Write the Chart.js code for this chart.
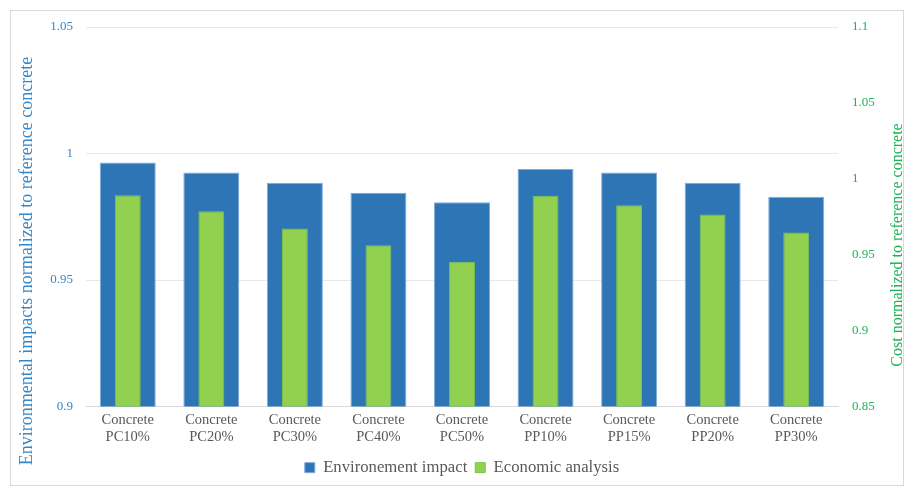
<!DOCTYPE html>
<html><head><meta charset="utf-8">
<script src="https://cdn.jsdelivr.net/npm/chart.js@4"></script>
<style>
html,body{margin:0;padding:0;background:#fff;}
#wrap{position:relative;width:906px;height:486px;}
#frame{position:absolute;left:10px;top:10px;width:894px;height:476px;border:1px solid #d9d9d9;box-sizing:border-box;pointer-events:none;}
</style></head>
<body>
<div id="wrap"><canvas id="c" width="906" height="486"></canvas><div id="frame"></div></div>
<script>
const categories = [["Concrete","PC10%"],["Concrete","PC20%"],["Concrete","PC30%"],["Concrete","PC40%"],["Concrete","PC50%"],["Concrete","PP10%"],["Concrete","PP15%"],["Concrete","PP20%"],["Concrete","PP30%"]];
const environmentImpact = [0.9964, 0.9925, 0.9884, 0.9845, 0.9807, 0.9939, 0.9925, 0.9884, 0.9829];
const economicAnalysis = [0.9892, 0.9786, 0.9672, 0.9562, 0.9453, 0.9888, 0.9826, 0.9765, 0.9646];
const leftTicks = [0.9, 0.95, 1, 1.05];
const rightTicks = [0.85, 0.9, 0.95, 1, 1.05, 1.1];
const leftTitle = 'Environmental impacts normalized to reference concrete';
const rightTitle = 'Cost normalized to reference concrete';

const serif = "'Liberation Serif', 'Times New Roman', serif";
const fmt = v => String(Number(v.toFixed(2)));
const blueText = '#3388CC';
const greenText = '#1DB356';

const axisTitles = {
  id: 'axisTitles',
  afterDraw(chart) {
    const ctx = chart.ctx;
    ctx.save();
    ctx.textAlign = 'center';
    ctx.textBaseline = 'middle';
    ctx.font = "18px " + serif;
    ctx.fillStyle = blueText;
    ctx.translate(27, 261);
    ctx.rotate(-Math.PI / 2);
    ctx.fillText(leftTitle, 0, 0);
    ctx.restore();
    ctx.save();
    ctx.textAlign = 'center';
    ctx.textBaseline = 'middle';
    ctx.font = "16px " + serif;
    ctx.fillStyle = greenText;
    ctx.translate(898, 245);
    ctx.rotate(-Math.PI / 2);
    ctx.fillText(rightTitle, 0, 0);
    ctx.restore();
  }
};

new Chart(document.getElementById('c'), {
  type: 'bar',
  data: {
    labels: categories,
    datasets: [
      {
        label: 'Environement impact',
        data: environmentImpact,
        yAxisID: 'y',
        backgroundColor: '#2E75B6',
        borderColor: '#7FAADB',
        borderWidth: 1,
        categoryPercentage: 1,
        barPercentage: 0.67,
        grouped: false,
        order: 1
      },
      {
        label: 'Economic analysis',
        data: economicAnalysis,
        yAxisID: 'y1',
        backgroundColor: '#92D050',
        borderColor: '#7EC44A',
        borderWidth: 1,
        categoryPercentage: 1,
        barPercentage: 0.31,
        grouped: false,
        order: 0
      }
    ]
  },
  plugins: [axisTitles],
  options: {
    responsive: false,
    animation: false,
    layout: { padding: { left: 10, right: 6, top: 27, bottom: 0 } },
    plugins: {
      tooltip: { enabled: false },
      legend: {
        position: 'bottom',
        fullSize: false,
        labels: {
          sort: (a, b) => a.datasetIndex - b.datasetIndex,
          boxWidth: 10, boxHeight: 10,
          color: '#595959',
          font: { family: serif, size: 16.7 },
          padding: 8
        }
      }
    },
    scales: {
      x: {
        grid: { display: false, drawTicks: false },
        border: { color: '#d9d9d9', width: 1 },
        ticks: { color: '#595959', font: { family: serif, size: 14.5 }, padding: 5, maxRotation: 0, autoSkip: false }
      },
      y: {
        position: 'left',
        min: 0.9, max: 1.05,
        afterBuildTicks: s => { s.ticks = leftTicks.map(v => ({ value: v })); },
        grid: { color: '#e8e8e8', drawTicks: false },
        border: { display: false },
        ticks: { color: blueText, font: { family: serif, size: 13 }, padding: 13, callback: fmt },
        afterFit: s => { s.width = 76; }
      },
      y1: {
        position: 'right',
        min: 0.85, max: 1.1,
        afterBuildTicks: s => { s.ticks = rightTicks.map(v => ({ value: v })); },
        grid: { display: false, drawTicks: false },
        border: { display: false },
        ticks: { color: greenText, font: { family: serif, size: 13 }, padding: 14, callback: fmt },
        afterFit: s => { s.width = 62; }
      }
    }
  }
});
</script>
</body></html>
